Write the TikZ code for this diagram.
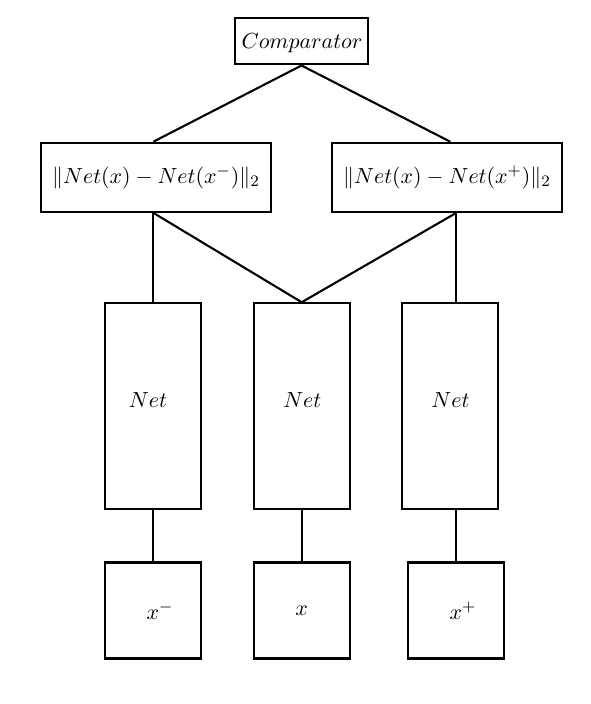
\documentclass[tikz,border=0pt]{standalone}
\begin{document}
\begin{tikzpicture}[x=0.5pt,y=-0.5pt,
  box/.style={draw,line width=1.05pt,inner sep=0pt,font=\fontsize{10.8}{13}\selectfont},
  wire/.style={line width=1.05pt},
  lbl/.style={inner sep=0pt,font=\fontsize{10.8}{13}\selectfont}]
\useasboundingbox (0,0) rectangle (590,704);
\node[box,minimum width=133*0.5pt,minimum height=46.5*0.5pt] (comp) at (301.5,41.2) {};
\node[lbl] (ct) at (302,43.5) {$Comparator$};
\node[box,minimum width=230*0.5pt,minimum height=69*0.5pt] (nl) at (156,177.3) {$\|Net(x)-Net(x^{-})\|_2$};
\node[box,minimum width=230*0.5pt,minimum height=69*0.5pt] (nr) at (447,177.3) {$\|Net(x)-Net(x^{+})\|_2$};
\node[box,minimum width=96*0.5pt,minimum height=206*0.5pt] (netl) at (153.3,406.3) {};
\node[box,minimum width=96*0.5pt,minimum height=206*0.5pt] (netm) at (301.7,406.3) {};
\node[box,minimum width=96*0.5pt,minimum height=206*0.5pt] (netr) at (450.3,406.3) {};
\node[lbl] (tl) at (148,400) {$Net$};
\node[lbl] (tm) at (302.3,400) {$Net$};
\node[lbl] (tr) at (450.5,400) {$Net$};
\node[box,minimum width=96*0.5pt,minimum height=96*0.5pt] (inl) at (153.3,610.5) {$x^{\rlap{$\scriptstyle -$}}$};
\node[box,minimum width=96*0.5pt,minimum height=96*0.5pt] (inm) at (301.7,610.5) {$x$};
\node[box,minimum width=96*0.5pt,minimum height=96*0.5pt] (inr) at (456.3,610.5) {$x^{\rlap{$\scriptstyle +$}}$};
\draw[wire] (comp.south) -- (nl.north -| netl.north);
\draw[wire] (comp.south) -- (nr.north -| netr.north);
\draw[wire] (nl.south -| netl.north) -- (netl.north);
\draw[wire] (nl.south -| netl.north) -- (netm.north);
\draw[wire] (nr.south -| inr.north) -- (netm.north);
\draw[wire] (nr.south -| inr.north) -- (netr.north -| inr.north);
\draw[wire] (netl.south) -- (inl.north);
\draw[wire] (netm.south) -- (inm.north);
\draw[wire] (netr.south -| inr.north) -- (inr.north);
\end{tikzpicture}
\end{document}
